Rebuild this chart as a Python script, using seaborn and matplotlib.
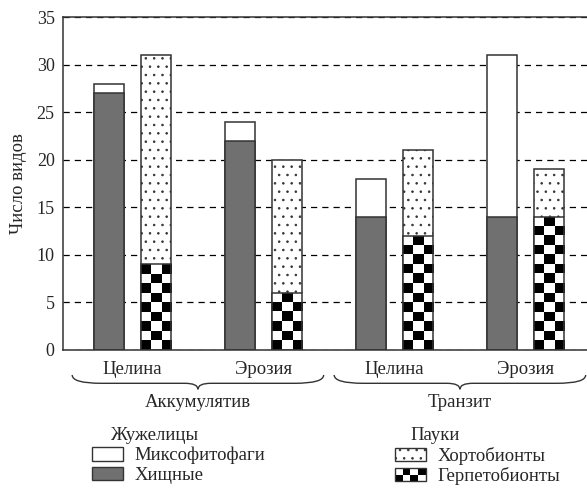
import numpy as np
import pandas as pd
import matplotlib
matplotlib.use("Agg")
import matplotlib.pyplot as plt
import seaborn as sns
from matplotlib.patches import Rectangle, PathPatch
from matplotlib.path import Path
from matplotlib.legend_handler import HandlerBase
import matplotlib.transforms as mtransforms

# data
zones = ["Аккумулятив", "Аккумулятив", "Транзит", "Транзит"]
sites = ["Целина", "Эрозия", "Целина", "Эрозия"]
beetles_pred = [27, 22, 14, 14]   # Хищные
beetles_mix = [1, 2, 4, 17]       # Миксофитофаги
spiders_herp = [9, 6, 12, 14]     # Герпетобионты
spiders_chort = [22, 14, 9, 5]    # Хортобионты
groups = ["Жужелицы", "Пауки"]

keys = [z + " " + s for z, s in zip(zones, sites)]
rows = []
for i, k in enumerate(keys):
    rows.append({"key": k, "group": groups[0], "total": beetles_pred[i] + beetles_mix[i], "bottom": beetles_pred[i]})
    rows.append({"key": k, "group": groups[1], "total": spiders_herp[i] + spiders_chort[i], "bottom": spiders_herp[i]})
df = pd.DataFrame(rows)

sns.set_style("white")
plt.rcParams["font.family"] = ["Liberation Serif", "DejaVu Serif"]
plt.rcParams["hatch.linewidth"] = 0.6

fig = plt.figure(figsize=(5.87, 4.88), dpi=100)
ax = fig.add_axes([63 / 587, 138 / 488, 524 / 587, 333 / 488])

edge = "#333333"
# totals first (upper segment colour), then bottoms on top
sns.barplot(data=df, x="key", y="total", hue="group", hue_order=groups, order=keys,
            palette={groups[0]: "white", groups[1]: "white"}, width=0.72, gap=0.36,
            edgecolor=edge, linewidth=1.1, errorbar=None, legend=False, ax=ax)
n_first = len(ax.containers)
for p in ax.containers[1]:
    p.set_hatch("..")

sns.barplot(data=df, x="key", y="bottom", hue="group", hue_order=groups, order=keys,
            palette={groups[0]: "#707070", groups[1]: "white"}, width=0.72, gap=0.36,
            edgecolor=edge, linewidth=1.1, errorbar=None, legend=False, ax=ax)

# checkerboard fill for Герпетобионты
for p in ax.containers[n_first + 1]:
    x0, w, h = p.get_x(), p.get_width(), p.get_height()
    nr = int(round(h))
    arr = np.indices((nr, 3)).sum(axis=0) % 2
    im = ax.imshow(arr, cmap="gray", vmin=0, vmax=1, extent=(x0, x0 + w, 0, nr),
                   origin="lower", interpolation="nearest", aspect="auto", zorder=1.05)
    im.set_clip_path(p)
    p.set_facecolor("none")
    p.set_zorder(1.1)

ax.set_xlim(-0.53, 3.47)
ax.set_ylim(0, 35)
ax.set_yticks(range(0, 36, 5))
ax.yaxis.grid(True, color="black", linestyle=(0, (5, 4)), linewidth=0.9)
ax.xaxis.grid(False)
ax.set_axisbelow(True)
for s in ["left", "bottom", "top"]:
    ax.spines[s].set_color(edge)
    ax.spines[s].set_linewidth(1.1)
ax.spines["right"].set_visible(False)

ax.set_xticks(range(len(keys)))
ax.set_xticklabels(sites)
ax.set_xticks([0.5, 1.5, 2.5], minor=True)
ax.tick_params(axis="x", which="major", length=0, pad=8, labelsize=13.5)
ax.tick_params(axis="x", which="minor", length=6, width=1, direction="out", color=edge)
ax.tick_params(axis="y", length=4, width=1, direction="out", color=edge, labelsize=13, pad=2)
ax.set_xlabel("")
ax.set_ylabel("Число видов", fontsize=13.5, labelpad=7)

# braces under the zones
trans = mtransforms.blended_transform_factory(ax.transData, ax.transAxes)


def brace(xc, half, y_top=-0.075, y_mid=-0.1, y_tip=-0.118):
    x0, x1 = xc - half, xc + half
    d, dt = 0.22, 0.1
    verts = [(x0, y_top), (x0, y_mid), (x0 + d, y_mid),
             (xc - dt, y_mid),
             (xc, y_mid), (xc, y_tip),
             (xc, y_mid), (xc + dt, y_mid),
             (x1 - d, y_mid),
             (x1, y_mid), (x1, y_top)]
    codes = [Path.MOVETO, Path.CURVE3, Path.CURVE3, Path.LINETO,
             Path.CURVE3, Path.CURVE3, Path.CURVE3, Path.CURVE3,
             Path.LINETO, Path.CURVE3, Path.CURVE3]
    ax.add_patch(PathPatch(Path(verts, codes), transform=trans, facecolor="none",
                           edgecolor=edge, linewidth=1.0, clip_on=False))


for zone, xc in [(zones[0], 0.5), (zones[2], 2.5)]:
    brace(xc, 0.96)
    ax.text(xc, -0.158, zone, transform=trans, ha="center", va="center", fontsize=13.5)


class CheckerHandler(HandlerBase):
    def create_artists(self, legend, orig, xd, yd, width, height, fontsize, trans):
        arts = []
        nc, nr = 4, 2
        for i in range(nr):
            for j in range(nc):
                c = "black" if (i + j) % 2 == 0 else "white"
                arts.append(Rectangle((-xd + j * width / nc, -yd + i * height / nr), width / nc,
                                      height / nr, facecolor=c, edgecolor="none", transform=trans))
        arts.append(Rectangle((-xd, -yd), width, height, facecolor="none", edgecolor=edge,
                              linewidth=1, transform=trans))
        return arts


leg_kw = dict(frameon=False, fontsize=13.5, handlelength=1.65, handleheight=0.72,
              handletextpad=0.62, labelspacing=0.12, borderpad=0, borderaxespad=0, loc="upper left")
h_mix = Rectangle((0, 0), 1, 1, facecolor="white", edgecolor=edge)
h_pred = Rectangle((0, 0), 1, 1, facecolor="#707070", edgecolor=edge)
fig.legend([h_mix, h_pred], ["Миксофитофаги", "Хищные"],
           bbox_to_anchor=(92 / 587, 1 - 447 / 488), **leg_kw)
h_chort = Rectangle((0, 0), 1, 1, facecolor="white", edgecolor=edge, hatch="..")
h_herp = Rectangle((0, 0), 1, 1, facecolor="white", edgecolor=edge)
fig.legend([h_chort, h_herp], ["Хортобионты", "Герпетобионты"],
           bbox_to_anchor=(395 / 587, 1 - 447 / 488),
           handler_map={h_herp: CheckerHandler()}, **leg_kw)
fig.text(110 / 587, 1 - 435 / 488, groups[0], fontsize=13.5, va="center", ha="left")
fig.text(410 / 587, 1 - 435 / 488, groups[1], fontsize=13.5, va="center", ha="left")

fig.savefig("out.png", dpi=100)
